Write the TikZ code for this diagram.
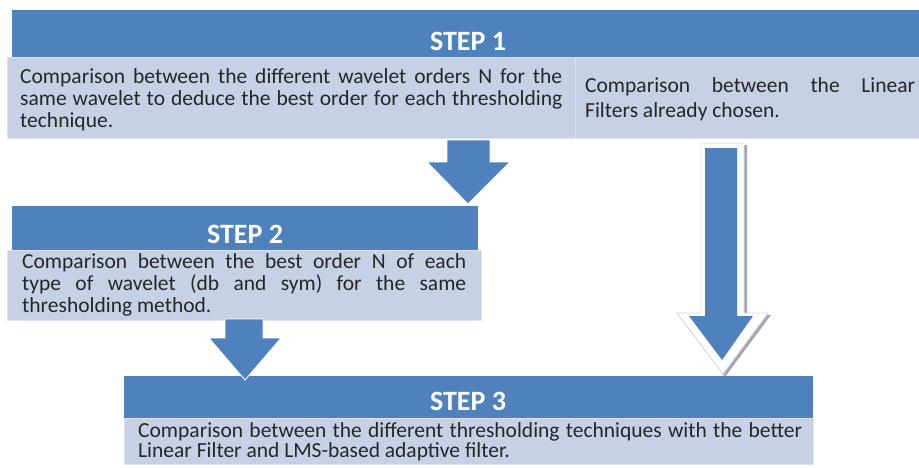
\documentclass[tikz,border=0pt]{standalone}
\usepackage{fontspec}
\setmainfont{Carlito}
\definecolor{hdr}{HTML}{4F81BD}
\definecolor{bodyfill}{HTML}{C6D1E6}
\definecolor{bodyline}{HTML}{DCE3EF}
\definecolor{txt}{HTML}{262626}
\definecolor{arrline}{HTML}{D9D9D9}
\definecolor{arrshadow}{HTML}{A0A8B4}
\tikzset{
  hdrbox/.style={fill=hdr, draw=none, inner sep=0, outer sep=0},
  bodybox/.style={fill=bodyfill, draw=bodyline, line width=0.8pt, inner sep=0, outer sep=0},
  hdrtext/.style={anchor=base, text=white, inner sep=0, font=\fontsize{28}{30}\selectfont\bfseries},
  bodytext/.style={anchor=base west, text=txt, inner sep=0},
  blockarrow/.style={fill=hdr, draw=white, line width=0.8pt, line join=miter},
}
\begin{document}
\begin{tikzpicture}[x=1pt,y=-1pt]
\useasboundingbox (0,0) rectangle (919,467);
% STEP 1
\node[hdrbox, minimum width=907pt, minimum height=47pt] (h1) at (465.5,33.5) {};
\node[hdrtext] (t1) at (468,50) {STEP 1};
\node[bodybox, minimum width=568pt, minimum height=81pt] (b1l) at (291,97.5) {};
\node[bodybox, minimum width=344pt, minimum height=81pt] (b1r) at (747,97.5) {};
\node[bodytext] (x1l) at (20,83) {\parbox[t]{542pt}{\fontsize{21.5}{22}\selectfont Comparison between the different wavelet orders N for the\linebreak same wavelet to deduce the best order for each thresholding\linebreak technique.}};
\node[bodytext] (x1r) at (585,92) {\parbox[t]{330pt}{\fontsize{21.5}{25}\selectfont Comparison between the Linear\linebreak Filters already chosen.}};
% STEP 2
\node[hdrbox, minimum width=466pt, minimum height=44pt] (h2) at (245,228) {};
\node[hdrtext] (t2) at (245,243) {STEP 2};
\node[bodybox, minimum width=474pt, minimum height=70pt] (b2) at (244,285) {};
\node[bodytext] (x2) at (22,268) {\parbox[t]{444pt}{\fontsize{21.5}{22}\selectfont Comparison between the best order N of each\linebreak type of wavelet (db and sym) for the same\linebreak thresholding method.}};
% STEP 3
\node[hdrbox, minimum width=689pt, minimum height=42pt] (h3) at (468.5,397) {};
\node[hdrtext] (t3) at (468,410) {STEP 3};
\node[bodybox, minimum width=689pt, minimum height=46pt] (b3) at (468.5,441) {};
\node[bodytext] (x3) at (138,437) {\parbox[t]{664pt}{\fontsize{21.5}{20}\selectfont Comparison between the different thresholding techniques with the better\linebreak Linear Filter and LMS-based adaptive filter.}};
% arrows
\fill[blockarrow] (447,140) -- (490,140) -- (490,162) -- (510,162) -- (468,204) -- (427,162) -- (447,162) -- cycle;
\fill[blockarrow] (225,319) -- (263,319) -- (263,338) -- (281,338) -- (245,380) -- (209,338) -- (225,338) -- cycle;
% outlined arrow
\fill[arrshadow] (703,145) -- (747,145) -- (747,315) -- (771,315) -- (725,377) -- (678,315) -- (703,315) -- cycle;
\filldraw[fill=white, draw=arrline, line width=0.8pt] (701,143) -- (744,143) -- (744,313) -- (768,313) -- (723,374) -- (677,313) -- (701,313) -- cycle;
\fill[hdr] (705,148) -- (737,148) -- (737,316) -- (753,316) -- (722,360) -- (689,316) -- (705,316) -- cycle;
\end{tikzpicture}
\end{document}
